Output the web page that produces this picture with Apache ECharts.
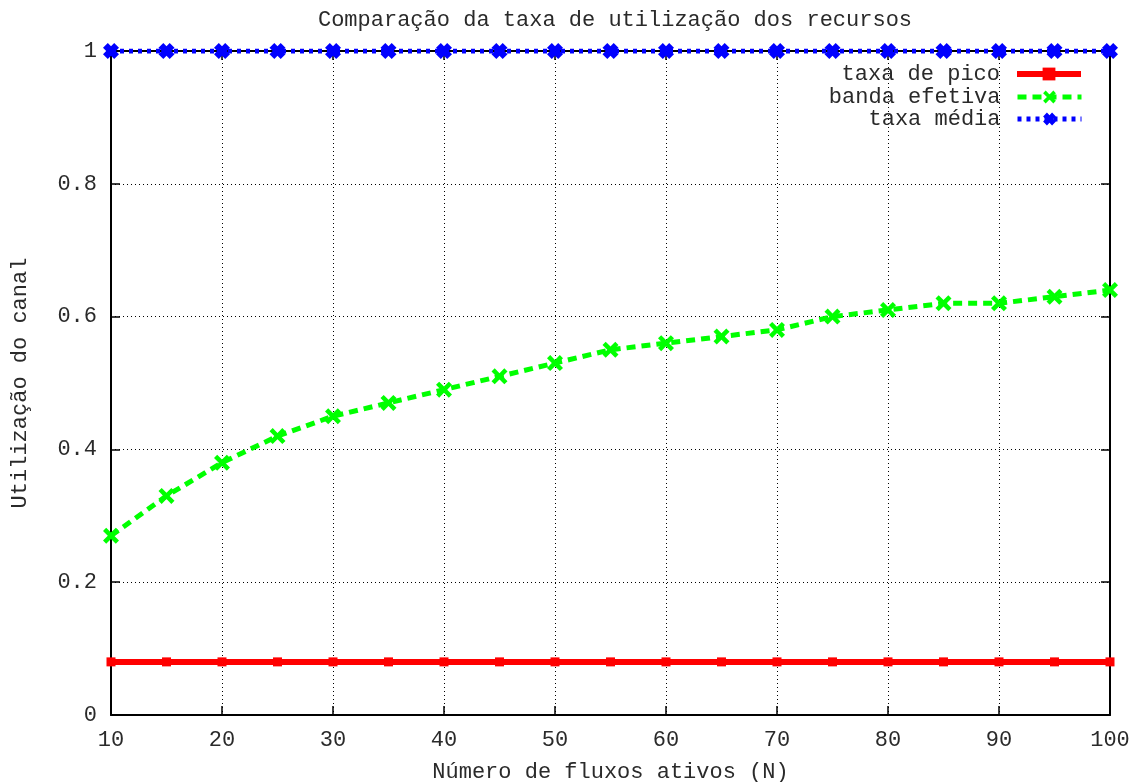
<!DOCTYPE html>
<html>
<head>
<meta charset="utf-8">
<script src="https://cdn.jsdelivr.net/npm/echarts@6/dist/echarts.min.js"></script>
<style>
  html, body { margin: 0; padding: 0; background: #fff; }
  #chart { width: 1146px; height: 782px; }
</style>
</head>
<body>
<div id="chart"></div>
<script>
// dados
const fluxos = [10, 15, 20, 25, 30, 35, 40, 45, 50, 55, 60, 65, 70, 75, 80, 85, 90, 95, 100]
const taxaPico = [0.08, 0.08, 0.08, 0.08, 0.08, 0.08, 0.08, 0.08, 0.08, 0.08, 0.08, 0.08, 0.08, 0.08, 0.08, 0.08, 0.08, 0.08, 0.08]
const bandaEfetiva = [0.27, 0.33, 0.38, 0.42, 0.45, 0.47, 0.49, 0.51, 0.53, 0.55, 0.56, 0.57, 0.58, 0.60, 0.61, 0.62, 0.62, 0.63, 0.64]
const taxaMedia = [1, 1, 1, 1, 1, 1, 1, 1, 1, 1, 1, 1, 1, 1, 1, 1, 1, 1, 1]
const nomes = ['taxa de pico', 'banda efetiva', 'taxa média']

const font = 'Liberation Mono, Courier New, monospace'
const textColor = '#2a2a2a'
const crossPath = 'path://M2,0 L5,3 L8,0 L10,2 L7,5 L10,8 L8,10 L5,7 L2,10 L0,8 L3,5 L0,2 Z'
const blobPath = 'path://M3,0 L5,2 L7,0 L10,3 L8,5 L10,7 L7,10 L5,8 L3,10 L0,7 L2,5 L0,3 Z'

const pairs = (ys) => fluxos.map((x, i) => [x, ys[i]])

const chart = echarts.init(document.getElementById('chart'))

const axisBase = {
  axisLine: { show: true, onZero: false, lineStyle: { color: '#000', width: 2 } },
  axisTick: { show: true, inside: true, length: 9, lineStyle: { color: '#000', width: 1.5 } }
}

const legendItem = (name, top) => ({
  data: [name],
  orient: 'vertical',
  align: 'right',
  right: 62,
  top: top,
  itemWidth: 64,
  itemHeight: 16,
  itemGap: 0,
  padding: 0,
  lineStyle: { width: 'inherit' },
  textStyle: { fontFamily: font, fontSize: 22, color: textColor, padding: [0, 12, 0, 0] }
})

const option = {
  animation: false,
  backgroundColor: '#fff',
  title: {
    text: 'Comparação da taxa de utilização dos recursos',
    left: 610,
    textAlign: 'center',
    top: 4,
    textStyle: { fontFamily: font, fontSize: 22, fontWeight: 'normal', color: textColor }
  },
  legend: [
    legendItem(nomes[0], 63),
    legendItem(nomes[1], 86),
    legendItem(nomes[2], 108)
  ],
  grid: { left: 111, right: 36, top: 51, bottom: 67, outerBoundsMode: 'none' },
  xAxis: [
    {
      ...axisBase,
      type: 'value',
      min: 10,
      max: 100,
      interval: 10,
      position: 'bottom',
      name: 'Número de fluxos ativos (N)',
      nameLocation: 'middle',
      nameGap: 46,
      nameTextStyle: { fontFamily: font, fontSize: 22, color: textColor },
      axisLabel: { fontFamily: font, fontSize: 22, color: textColor, margin: 14 },
      splitLine: { show: true, lineStyle: { color: '#000', width: 1, type: [1, 3] } }
    },
    {
      ...axisBase,
      type: 'value',
      min: 10,
      max: 100,
      interval: 10,
      position: 'top',
      axisLabel: { show: false },
      splitLine: { show: false }
    }
  ],
  yAxis: [
    {
      ...axisBase,
      type: 'value',
      min: 0,
      max: 1,
      interval: 0.2,
      position: 'left',
      name: 'Utilização do canal',
      nameLocation: 'middle',
      nameGap: 80,
      nameTextStyle: { fontFamily: font, fontSize: 22, color: textColor },
      axisLabel: { fontFamily: font, fontSize: 22, color: textColor, margin: 14 },
      splitLine: { show: true, lineStyle: { color: '#000', width: 1, type: [1, 3] } }
    },
    {
      ...axisBase,
      type: 'value',
      min: 0,
      max: 1,
      interval: 0.2,
      position: 'right',
      axisLabel: { show: false },
      splitLine: { show: false }
    }
  ],
  series: [
    {
      name: nomes[0],
      type: 'line',
      data: pairs(taxaPico),
      symbol: 'rect',
      symbolSize: 9,
      lineStyle: { color: '#ff0000', width: 6 },
      itemStyle: { color: '#ff0000' },
      z: 3
    },
    {
      name: nomes[1],
      type: 'line',
      data: pairs(bandaEfetiva),
      symbol: crossPath,
      symbolSize: 16,
      lineStyle: { color: '#00ff00', width: 5, type: [9, 6] },
      itemStyle: { color: '#00ff00' },
      z: 4
    },
    {
      name: nomes[2],
      type: 'line',
      data: pairs(taxaMedia),
      symbol: blobPath,
      symbolSize: 16,
      lineStyle: { color: '#0000ff', width: 5, type: [4, 5] },
      itemStyle: { color: '#0000ff' },
      z: 5
    }
  ]
}

chart.setOption(option)
</script>
</body>
</html>
